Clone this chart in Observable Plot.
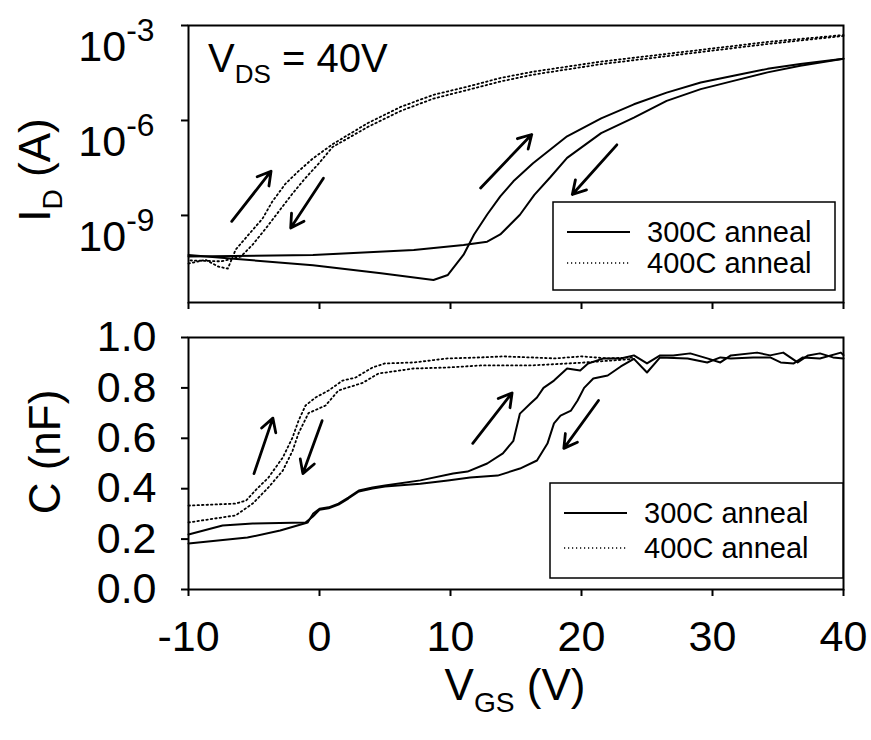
<!DOCTYPE html>
<html><head><meta charset="utf-8">
<script src="https://cdn.jsdelivr.net/npm/d3@7"></script>
<script src="https://cdn.jsdelivr.net/npm/@observablehq/plot@0.6"></script>
<style>
body{margin:0;background:#fff;}
#chart{width:871px;height:740px;}
#chart svg{display:block;overflow:visible;}
</style></head><body><div id="chart"></div>
<script>
// ---------- DATA ----------
const xTicks = [-10, 0, 10, 20, 30, 40];
const idTicks = [1e-9, 1e-6, 1e-3];
const cTicks = [0, 0.2, 0.4, 0.6, 0.8, 1.0];
const seriesNames = ["300C anneal", "400C anneal"];

// I_D (A) vs V_GS, 300C anneal
const v300fwdI = [-10, -6.8, -0.5, 4.7, 8.7, 9.8, 11.0, 11.8, 12.8, 13.8, 14.8, 16.3, 18.9, 21.5, 24.0, 26.5, 29.1, 31.6, 34.2, 36.7, 40];
const i300fwd  = [5.62e-11, 4.37e-11, 2.69e-11, 1.48e-11, 9.1e-12, 1.32e-11, 5.75e-11, 2.51e-10, 1.07e-9, 3.98e-9, 1.2e-8, 4.47e-8, 3.16e-7, 1.17e-6, 3.24e-6, 7.59e-6, 1.58e-5, 2.57e-5, 4.27e-5, 6.03e-5, 8.9e-5];
const v300revI = [40, 36.7, 34.2, 31.6, 29.1, 26.5, 24.0, 21.5, 18.9, 17.6, 16.4, 15.3, 13.8, 12.8, 11.0, 7.2, -0.5, -10];
const i300rev  = [8.9e-5, 5.37e-5, 3.31e-5, 1.78e-5, 9.77e-6, 4.17e-6, 1.23e-6, 3.98e-7, 6.61e-8, 1.58e-8, 4.47e-9, 1.05e-9, 2.51e-10, 1.48e-10, 1.17e-10, 8.13e-11, 5.62e-11, 5.01e-11];
// I_D (A) vs V_GS, 400C anneal
const v400fwdI = [-10, -8.7, -7.7, -7.0, -6.4, -5.4, -4.35, -3.6, -2.6, -1.6, -0.5, 1.0, 3.7, 6.2, 8.7, 11.3, 13.8, 16.3, 18.9, 21.5, 25, 29.1, 34.2, 40];
const i400fwd  = [3.02e-11, 3.98e-11, 2.4e-11, 2.09e-11, 8.32e-11, 2.51e-10, 7.94e-10, 2.75e-9, 1.0e-8, 2.51e-8, 6.31e-8, 1.78e-7, 8.32e-7, 2.69e-6, 6.46e-6, 1.17e-5, 2.19e-5, 3.47e-5, 5.01e-5, 7.24e-5, 1.07e-4, 1.7e-4, 3.02e-4, 5.01e-4];
const v400revI = [40, 34.2, 29.1, 25, 21.5, 18.9, 16.3, 13.8, 11.3, 8.7, 6.2, 3.7, 1.0, -0.1, -1.1, -2.1, -3.1, -4.1, -5.1, -6.0, -7.5, -10];
const i400rev  = [4.68e-4, 2.6e-4, 1.45e-4, 9.0e-5, 6.0e-5, 4.1e-5, 2.8e-5, 1.7e-5, 9.2e-6, 4.9e-6, 2.0e-6, 6.3e-7, 1.45e-7, 4.17e-8, 1.48e-8, 4.68e-9, 1.35e-9, 3.89e-10, 1.2e-10, 5.01e-11, 3.55e-11, 3.8e-11];

// C (nF) vs V_GS, 300C anneal
const v300fwdC = [-10, -5.5, -3.0, -0.9, -0.5, 0, 0.7, 1.45, 2.2, 3.0, 4.05, 5.0, 7.7, 10.2, 11.3, 12.8, 14.0, 14.8, 15.3, 16.1, 16.6, 17.1, 17.9, 18.9, 19.9, 20.5, 21.7, 23.0, 24.0, 25.0, 26.0, 27.0, 28.3, 29.6, 30.6, 31.4, 33.4, 34.4, 35.4, 36.5, 37.3, 38.2, 39.2, 40];
const c300fwd  = [0.183, 0.206, 0.234, 0.266, 0.30, 0.32, 0.326, 0.341, 0.365, 0.393, 0.405, 0.413, 0.433, 0.46, 0.468, 0.50, 0.54, 0.59, 0.698, 0.738, 0.762, 0.80, 0.829, 0.877, 0.869, 0.897, 0.917, 0.917, 0.929, 0.897, 0.929, 0.929, 0.937, 0.917, 0.901, 0.929, 0.940, 0.929, 0.940, 0.901, 0.929, 0.937, 0.921, 0.917];
const v300revC = [40, 39.8, 38.2, 36.9, 36.2, 35.2, 34.4, 33.1, 31.4, 30.6, 29.6, 28.1, 26.0, 25.0, 24.0, 23.0, 22.0, 20.9, 20.2, 19.7, 19.2, 18.4, 17.9, 17.4, 16.6, 15.3, 13.6, 11.5, 9.8, 7.7, 5.0, 4.05, 3.0, 2.2, 1.45, 0.7, 0, -0.5, -1.07, -5.1, -7.4, -10];
const c300rev  = [0.930, 0.940, 0.917, 0.921, 0.897, 0.901, 0.921, 0.921, 0.917, 0.921, 0.901, 0.917, 0.921, 0.861, 0.915, 0.885, 0.849, 0.837, 0.80, 0.75, 0.71, 0.69, 0.659, 0.579, 0.512, 0.48, 0.452, 0.444, 0.433, 0.42, 0.409, 0.401, 0.389, 0.361, 0.337, 0.322, 0.316, 0.29, 0.266, 0.262, 0.254, 0.218];
// C (nF) vs V_GS, 400C anneal
const v400fwdC = [-10, -6.4, -5.6, -4.9, -3.9, -2.8, -2.06, -1.6, -1.07, -0.3, 0.7, 1.76, 2.75, 4.05, 5.0, 7.2, 9.8, 12.3, 14.0, 16.1, 18.0, 20.0, 22.0, 24.0];
const c400fwd  = [0.333, 0.341, 0.353, 0.393, 0.444, 0.524, 0.603, 0.67, 0.73, 0.762, 0.79, 0.829, 0.841, 0.881, 0.897, 0.901, 0.917, 0.921, 0.925, 0.921, 0.917, 0.925, 0.917, 0.921];
const v400revC = [24.0, 20.0, 16.1, 12.3, 9.8, 7.2, 4.5, 3.3, 1.45, 0.46, -0.84, -1.6, -2.06, -2.8, -3.9, -5.1, -6.4, -10];
const c400rev  = [0.915, 0.90, 0.889, 0.889, 0.881, 0.877, 0.857, 0.82, 0.79, 0.73, 0.70, 0.62, 0.55, 0.472, 0.405, 0.341, 0.294, 0.266];

// sweep-direction arrows (data coordinates)
const arrowsI = [
  {x1: -6.7, y1: 6.5e-10, x2: -3.7, y2: 2.5e-8},
  {x1: 0.3,  y1: 1.5e-8,  x2: -2.2, y2: 4.0e-10},
  {x1: 12.3, y1: 7.4e-9,  x2: 16.2, y2: 3.6e-7},
  {x1: 22.7, y1: 1.7e-7,  x2: 19.3, y2: 4.6e-9}
];
const arrowsC = [
  {x1: -5.0, y1: 0.46, x2: -3.56, y2: 0.68},
  {x1: 0.2,  y1: 0.67, x2: -1.27, y2: 0.46},
  {x1: 11.7, y1: 0.58, x2: 14.7,  y2: 0.78},
  {x1: 21.3, y1: 0.75, x2: 18.65, y2: 0.56}
];

// ---------- BUILD ----------
const zip = (xs, ys) => xs.map((x, i) => ({x, y: ys[i]}));
const FONT = '"Liberation Sans", Arial, Helvetica, sans-serif';
const solid = {x: "x", y: "y", stroke: "black", strokeWidth: 2};
const dotted = {x: "x", y: "y", stroke: "black", strokeWidth: 1.8, strokeDasharray: "1.5 3"};
const arrowStyle = {x1: "x1", y1: "y1", x2: "x2", y2: "y2", stroke: "black", strokeWidth: 2.8, headLength: 8, headAngle: 60};

const topPlot = Plot.plot({
  width: 871, height: 318,
  marginLeft: 188, marginRight: 28, marginTop: 25, marginBottom: 16,
  style: {fontFamily: FONT, fontSize: "43px", background: "white", color: "black", overflow: "visible"},
  x: {domain: [-10, 40]},
  y: {type: "log", domain: [Math.pow(10, -11.75), 1e-3]},
  marks: [
    Plot.axisX({ticks: xTicks, tickFormat: () => "", tickSize: 7, strokeWidth: 2, label: null}),
    Plot.axisY({ticks: idTicks, tickSize: 7, tickPadding: 27, strokeWidth: 2, label: null,
      tickFormat: d => "10^" + Math.round(Math.log10(d))}),
    Plot.line(zip(v300fwdI, i300fwd), solid),
    Plot.line(zip(v300revI, i300rev), solid),
    Plot.line(zip(v400fwdI, i400fwd), dotted),
    Plot.line(zip(v400revI, i400rev), dotted),
    Plot.arrow(arrowsI, arrowStyle),
    Plot.frame({stroke: "black", strokeWidth: 2})
  ]
});

const botPlot = Plot.plot({
  width: 871, height: 422,
  marginLeft: 188, marginRight: 28, marginTop: 19, marginBottom: 151,
  style: {fontFamily: FONT, fontSize: "43px", background: "white", color: "black", overflow: "visible"},
  x: {domain: [-10, 40]},
  y: {domain: [0, 1]},
  marks: [
    Plot.axisX({ticks: xTicks, tickSize: 7, tickPadding: 24, strokeWidth: 2, label: null, tickFormat: d => String(d)}),
    Plot.axisY({ticks: cTicks, tickSize: 7, tickPadding: 25, strokeWidth: 2, label: null, tickFormat: d => d.toFixed(1)}),
    Plot.line(zip(v400fwdC, c400fwd), dotted),
    Plot.line(zip(v400revC, c400rev), dotted),
    Plot.line(zip(v300fwdC, c300fwd), solid),
    Plot.line(zip(v300revC, c300rev), solid),
    Plot.arrow(arrowsC, arrowStyle),
    Plot.frame({stroke: "black", strokeWidth: 2})
  ]
});

const root = document.getElementById("chart");
root.appendChild(topPlot);
root.appendChild(botPlot);

// superscript tick labels (10^-n)
d3.select(topPlot).selectAll("text").filter(function () { return this.textContent.includes("^"); }).each(function () {
  const [b, e] = this.textContent.split("^");
  const t = d3.select(this);
  t.text(null).attr("dy", "0.5em");
  t.append("tspan").text(b);
  t.append("tspan").attr("font-size", "0.74em").attr("dy", "-0.62em").text(e);
});

function addTitle(svg, x, y, rotate, main, sub, rest, size) {
  const t = d3.select(svg).append("text")
    .attr("transform", `translate(${x},${y})` + (rotate ? " rotate(-90)" : ""))
    .attr("text-anchor", "middle").attr("font-family", FONT).attr("font-size", size).attr("fill", "black");
  t.append("tspan").text(main);
  if (sub) t.append("tspan").attr("font-size", size * 0.64).attr("dy", size * 0.28).text(sub);
  if (rest) t.append("tspan").attr("dy", -size * 0.28).text(rest);
}
addTitle(topPlot, 50, 170, true, "I", "D", " (A)", 44);
addTitle(botPlot, 60, 452 - 318, true, "C (nF)", "", "", 44);
addTitle(botPlot, 515, 382, false, "V", "GS", " (V)", 44);

// V_DS annotation
{
  const t = d3.select(topPlot).append("text").attr("x", 208).attr("y", 72).attr("text-anchor", "start")
    .attr("font-family", FONT).attr("font-size", 40).attr("fill", "black");
  t.append("tspan").text("V");
  t.append("tspan").attr("font-size", 26).attr("dy", 11).text("DS");
  t.append("tspan").attr("dy", -11).text(" = 40V");
}

function addLegend(svg, x0, y0, x1, y1, rowYs) {
  const g = d3.select(svg).append("g");
  g.append("rect").attr("x", x0).attr("y", y0).attr("width", x1 - x0).attr("height", y1 - y0)
    .attr("fill", "white").attr("stroke", "black").attr("stroke-width", 1.5);
  seriesNames.forEach((name, i) => {
    const yy = rowYs[i];
    g.append("line").attr("x1", x0 + 14).attr("x2", x0 + 77).attr("y1", yy).attr("y2", yy)
      .attr("stroke", "black").attr("stroke-width", i === 0 ? 2 : 1.3)
      .attr("stroke-dasharray", i === 0 ? null : "1.2 2.8");
    g.append("text").attr("x", x0 + 94).attr("y", yy + 10).attr("text-anchor", "start").attr("font-family", FONT)
      .attr("font-size", 29).attr("fill", "black").text(name);
  });
}
addLegend(topPlot, 553, 202, 835, 290, [232, 263]);
addLegend(botPlot, 550, 483 - 318, 843, 578 - 318, [513 - 318, 548 - 318]);
</script></body></html>
